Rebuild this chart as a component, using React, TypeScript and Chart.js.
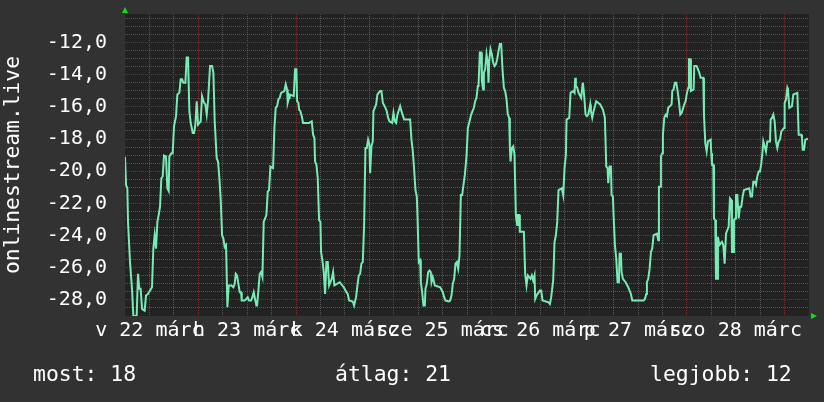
import React, { useEffect, useRef } from "react";
import { Chart, registerables } from "chart.js";

Chart.register(...registerables);

// time in hours since 22 March 00:00
const hours = [
  6.0, 6.25, 6.57, 6.74, 7.23, 7.72, 8.05, 8.87, 9.19, 9.52, 9.85, 10.18, 10.83, 11.16, 11.65, 12.63, 12.96, 13.29, 13.62, 13.95,
  14.27, 14.6, 14.93, 15.26, 15.58, 16.07, 16.4, 16.73, 16.89, 17.39, 17.71, 18.04, 18.53, 18.86, 19.35, 19.68, 20.01, 20.33, 20.83, 21.15,
  21.48, 21.81, 22.14, 22.63, 22.96, 23.28, 23.61, 23.94, 24.59, 24.92, 25.41, 25.74, 26.07, 26.39, 26.89, 27.38, 27.71, 28.03, 28.52, 28.85,
  29.18, 29.51, 29.84, 30.16, 30.49, 30.82, 31.15, 31.47, 32.13, 32.62, 32.95, 33.2, 33.52, 33.85, 34.18, 34.5, 34.67, 35.32, 35.81, 36.14,
  36.47, 36.96, 37.29, 37.62, 37.94, 38.27, 38.44, 38.76, 39.09, 39.42, 39.75, 40.07, 40.73, 41.06, 41.38, 41.71, 42.37, 42.7, 43.02, 43.35,
  43.68, 44.01, 44.33, 45.15, 45.48, 45.81, 45.97, 46.3, 46.46, 47.45, 47.77, 48.1, 48.27, 48.59, 48.76, 49.08, 49.41, 49.74, 51.21, 51.87,
  52.2, 52.52, 52.69, 53.02, 53.34, 53.67, 54.0, 54.16, 54.49, 54.82, 55.15, 55.47, 55.8, 56.13, 56.78, 57.11, 57.44, 58.75, 59.73, 60.39,
  60.71, 61.04, 61.95, 62.27, 62.44, 62.76, 63.09, 63.42, 63.75, 64.07, 64.4, 64.73, 65.06, 65.39, 65.71, 66.04, 66.2, 66.53, 66.86, 67.02,
  67.35, 67.68, 68.01, 68.66, 68.99, 69.32, 69.97, 70.3, 70.63, 70.96, 71.61, 71.94, 72.27, 72.59, 72.92, 73.58, 73.9, 74.56, 76.03, 76.36,
  76.69, 77.02, 77.34, 77.67, 77.84, 78.16, 78.49, 78.66, 78.98, 79.31, 79.64, 79.8, 80.13, 80.46, 80.78, 81.11, 81.28, 81.6, 82.1, 83.41,
  84.06, 84.39, 84.72, 85.54, 85.86, 86.19, 86.52, 86.85, 87.17, 87.5, 87.83, 88.16, 88.49, 88.81, 89.14, 89.47, 89.88, 90.21, 90.53, 91.02,
  91.68, 92.01, 92.33, 92.66, 92.83, 93.15, 93.48, 93.65, 93.97, 94.14, 94.46, 94.79, 95.12, 95.28, 95.45, 95.77, 96.1, 96.43, 96.76, 97.09,
  97.41, 97.74, 98.07, 98.4, 98.72, 99.05, 99.38, 99.71, 100.03, 100.36, 100.53, 100.69, 101.02, 101.35, 101.67, 102.0, 102.33, 102.49, 102.82, 102.98,
  103.97, 104.29, 104.62, 104.95, 105.6, 105.93, 106.26, 106.59, 106.75, 107.08, 107.9, 108.23, 108.55, 110.03, 110.36, 110.68, 111.17, 111.5, 111.83, 112.16,
  112.48, 113.3, 113.63, 113.96, 114.29, 114.45, 115.11, 115.43, 116.09, 116.42, 116.58, 116.74, 117.07, 117.4, 118.05, 118.38, 118.47, 118.79, 119.12, 119.45,
  119.78, 120.27, 120.43, 120.76, 121.09, 121.74, 122.72, 123.38, 123.87, 124.03, 124.2, 124.53, 124.69, 125.02, 125.35, 125.51, 125.84, 126.0, 126.33, 126.66,
  126.98, 127.31, 127.48, 127.8, 127.97, 128.29, 128.95, 129.6, 129.93, 130.26, 130.59, 133.37, 133.7, 134.03, 134.19, 134.52, 134.85, 135.18, 135.5, 135.83,
  136.65, 136.98, 137.14, 137.47, 137.63, 137.96, 138.12, 138.45, 138.78, 139.11, 139.43, 140.25, 140.42, 140.74, 141.07, 141.4, 141.73, 142.05, 142.38, 142.71,
  143.37, 143.69, 144.02, 144.35, 144.51, 144.84, 145.0, 145.66, 145.82, 146.4, 146.73, 147.05, 147.38, 148.04, 148.2, 148.53, 148.86, 149.18, 149.84, 150.0,
  150.17, 150.49, 150.66, 150.98, 151.15, 151.48, 151.64, 151.97, 152.62, 152.95, 153.28, 153.61, 153.93, 154.26, 154.59, 154.92, 155.08, 155.41, 155.57, 155.9,
  156.06, 156.39, 156.72, 157.05, 157.37, 157.7, 158.03, 159.34, 159.67, 159.99, 160.32, 160.65, 160.98, 161.3, 161.63, 161.96, 162.29, 162.62, 162.78, 163.11,
  163.44, 163.76, 164.42, 164.58, 164.91, 165.24, 165.56, 165.89, 166.22, 166.55, 166.88, 167.2, 167.86, 168.02, 168.35, 168.68, 168.84, 169.17, 169.82, 170.15,
  171.14, 171.46, 172.12, 172.28, 172.45, 172.77, 173.1, 173.76,
];

const values = [
  -19.1, -20.85, -21.06, -23.15, -25.65, -27.31, -29.0, -29.0, -26.38, -27.31, -27.31, -28.56, -28.67, -27.73, -27.63, -27.21, -24.81, -23.98, -24.81, -23.15,
  -22.73, -22.21, -20.44, -20.33, -19.02, -19.08, -21.06, -21.23, -19.08, -18.88, -18.88, -17.21, -16.58, -15.23, -15.13, -14.29, -14.29, -14.5, -14.5, -12.94,
  -12.94, -16.27, -17.0, -17.63, -17.63, -17.1, -15.65, -17.1, -16.9, -15.33, -15.75, -15.85, -16.48, -15.65, -13.46, -13.46, -13.88, -16.9, -19.19, -19.4,
  -20.44, -21.79, -23.98, -24.19, -24.71, -24.6, -28.46, -27.1, -27.1, -27.21, -27.0, -26.38, -26.48, -27.0, -27.52, -27.52, -28.04, -28.04, -27.94, -27.83,
  -28.04, -28.04, -27.83, -27.52, -27.94, -28.35, -28.35, -27.42, -26.38, -26.27, -26.58, -23.15, -22.73, -21.27, -21.17, -19.71, -19.81, -17.31, -16.06, -15.96,
  -15.54, -15.44, -15.13, -15.02, -14.6, -14.92, -15.75, -15.44, -15.23, -15.33, -13.67, -13.67, -15.65, -15.75, -16.17, -16.27, -16.58, -17.0, -17.0, -16.9,
  -17.73, -17.94, -19.4, -19.6, -20.44, -23.04, -23.15, -25.02, -25.54, -26.27, -27.63, -25.65, -25.65, -27.1, -26.69, -26.27, -27.1, -26.9, -27.21, -27.52,
  -27.63, -28.04, -28.1, -28.35, -28.35, -27.83, -27.1, -26.48, -26.38, -25.75, -25.65, -23.35, -18.56, -18.56, -18.04, -18.35, -20.13, -18.46, -18.15, -16.27,
  -16.06, -15.85, -15.23, -15.02, -15.02, -15.75, -16.06, -16.27, -16.69, -16.9, -17.0, -16.38, -16.9, -17.0, -16.48, -15.96, -16.27, -16.79, -16.79, -18.04,
  -18.77, -19.92, -21.17, -21.58, -22.83, -25.65, -25.54, -26.9, -27.52, -28.35, -28.35, -27.31, -27.0, -26.27, -26.17, -26.27, -26.9, -26.58, -27.1, -27.21,
  -27.52, -27.83, -28.04, -28.1, -28.04, -27.73, -27.0, -26.69, -25.75, -25.65, -26.06, -25.23, -21.48, -21.48, -20.85, -20.23, -19.08, -17.31, -17.0, -16.48,
  -16.06, -15.65, -15.44, -14.71, -14.71, -12.63, -12.63, -14.4, -14.92, -13.88, -13.67, -12.73, -13.35, -14.5, -13.15, -12.42, -12.73, -13.25, -13.46, -13.35,
  -13.04, -12.52, -12.1, -12.1, -13.67, -14.81, -15.02, -15.54, -16.48, -16.69, -18.56, -19.4, -18.56, -18.46, -18.98, -22.73, -23.35, -22.73, -22.73, -23.77,
  -23.77, -26.38, -27.1, -26.48, -26.69, -26.48, -26.79, -26.48, -27.94, -27.73, -27.42, -27.42, -28.04, -28.15, -28.25, -27.83, -26.79, -24.4, -23.98, -23.15,
  -21.17, -21.06, -21.48, -19.81, -18.98, -16.79, -16.69, -15.13, -15.02, -15.13, -14.19, -14.71, -14.81, -15.13, -15.44, -14.6, -14.5, -15.33, -16.48, -16.58,
  -16.48, -15.85, -16.27, -16.69, -16.27, -15.65, -15.85, -16.17, -16.69, -18.15, -19.71, -19.81, -20.75, -19.71, -19.71, -21.48, -21.58, -22.73, -24.6, -25.44,
  -26.9, -26.9, -25.13, -25.13, -26.27, -26.69, -26.9, -27.21, -27.42, -27.63, -28.04, -28.04, -27.94, -27.63, -26.9, -26.69, -26.06, -25.02, -24.81, -23.98,
  -23.88, -24.29, -20.96, -20.96, -19.08, -18.88, -17.73, -16.69, -16.48, -16.58, -16.06, -15.85, -15.02, -14.92, -14.5, -14.5, -15.02, -15.65, -16.48, -16.38,
  -15.85, -15.65, -15.13, -14.81, -13.04, -13.04, -15.02, -14.92, -13.46, -13.46, -13.67, -13.88, -14.19, -14.19, -16.48, -18.25, -18.77, -18.15, -18.04, -18.88,
  -19.6, -19.6, -22.94, -23.04, -26.69, -26.69, -24.08, -24.6, -24.4, -24.6, -25.75, -23.88, -23.67, -23.46, -21.69, -21.79, -25.02, -25.02, -23.04, -22.94,
  -21.48, -21.48, -22.94, -22.21, -22.21, -21.58, -21.17, -21.06, -21.58, -21.58, -20.65, -20.65, -20.85, -20.33, -20.02, -20.02, -19.5, -18.67, -18.15, -18.46,
  -18.77, -18.15, -18.15, -16.79, -16.69, -16.48, -16.9, -18.15, -18.56, -18.15, -18.04, -17.52, -17.31, -15.75, -15.54, -14.81, -14.92, -16.06, -15.96, -15.23,
  -15.13, -17.73, -17.73, -17.94, -18.67, -18.67, -18.04, -17.98,
];

const dayTickHours = [12, 36, 60, 84, 108, 132, 156];
const dayLabels = ["v 22 márc", "h 23 márc", "k 24 márc", "sze 25 márc", "cs 26 márc", "p 27 márc", "szo 28 márc"];
const yLabelValues = [-28, -26, -24, -22, -20, -18, -16, -14, -12];
const legendTexts = ["most: 18", "átlag: 21", "legjobb: 12"];
const yTitle = "onlinestream.live";

const X_MIN = 6;
const X_MAX = 174;
const Y_MIN = -29;
const Y_MAX = -10.23;

const MONO = '"DejaVu Sans Mono", monospace';
const OUTER = "#323232";
const INNER = "#222222";
const LINE = "#78eab4";
const MINOR = "rgba(128,128,128,0.55)";
const MAJOR = "#703434";
const ARROW = "#11dd11";
const TEXT = "#ffffff";
const CLEAR = "rgba(0,0,0,0)";

export default function App() {
  const ref = useRef<HTMLCanvasElement | null>(null);

  useEffect(() => {
    document.body.style.margin = "0";
    document.body.style.background = OUTER;
    const canvas = ref.current;
    if (!canvas) return;

    const decor = {
      id: "decor",
      beforeDraw(chart: any) {
        const { ctx, chartArea: a } = chart;
        ctx.save();
        ctx.fillStyle = OUTER;
        ctx.fillRect(0, 0, chart.width, chart.height);
        ctx.fillStyle = INNER;
        ctx.fillRect(a.left, a.top, a.right - a.left, a.bottom - a.top);
        ctx.restore();
      },
      afterDraw(chart: any) {
        const { ctx, chartArea: a } = chart;
        ctx.save();
        // axis arrows
        ctx.fillStyle = ARROW;
        ctx.beginPath();
        ctx.moveTo(a.left - 3, a.top - 1);
        ctx.lineTo(a.left + 3, a.top - 1);
        ctx.lineTo(a.left, a.top - 7);
        ctx.closePath();
        ctx.fill();
        ctx.beginPath();
        ctx.moveTo(a.right + 2, a.bottom - 3);
        ctx.lineTo(a.right + 2, a.bottom + 3);
        ctx.lineTo(a.right + 8, a.bottom);
        ctx.closePath();
        ctx.fill();
        // legend line
        ctx.fillStyle = TEXT;
        ctx.font = "21.4px " + MONO;
        ctx.textBaseline = "alphabetic";
        ctx.textAlign = "left";
        const xs = [33, 335, 650];
        legendTexts.forEach((t, i) => ctx.fillText(t, xs[i], 381));
        ctx.restore();
      },
    };

    const chart = new Chart(canvas, {
      type: "line",
      data: {
        datasets: [
          {
            data: hours.map((h, i) => ({ x: h, y: values[i] })),
            borderColor: LINE,
            borderWidth: 2,
            pointRadius: 0,
            tension: 0,
            fill: false,
          },
        ],
      },
      options: {
        animation: false,
        responsive: false,
        devicePixelRatio: 1,
        layout: { padding: { left: 0, right: 15, top: 14, bottom: 0 } },
        plugins: { legend: { display: false }, tooltip: { enabled: false } },
        scales: {
          x: {
            type: "linear",
            min: X_MIN,
            max: X_MAX,
            afterBuildTicks: (s: any) => {
              const t: any[] = [];
              for (let h = 12; h < X_MAX; h += 6) t.push({ value: h });
              s.ticks = t;
            },
            afterFit: (s: any) => {
              s.height = 86;
            },
            ticks: {
              autoSkip: false,
              maxRotation: 0,
              minRotation: 0,
              padding: 0,
              color: TEXT,
              font: { family: MONO, size: 20, lineHeight: 1 },
              callback: (v: any) => {
                const i = dayTickHours.indexOf(Number(v));
                return i >= 0 ? dayLabels[i] : "";
              },
            },
            grid: {
              color: (c: any) => (c.tick && c.tick.value % 24 === 0 ? MAJOR : MINOR),
              lineWidth: 1,
              drawTicks: true,
              tickLength: 5,
              tickColor: CLEAR,
            },
            border: { display: false, dash: [1, 1] },
          },
          y: {
            type: "linear",
            min: Y_MIN,
            max: Y_MAX,
            afterBuildTicks: (s: any) => {
              const t: any[] = [];
              for (let v = Y_MIN + 0.5; v < Y_MAX; v += 0.5) t.push({ value: v });
              s.ticks = t;
            },
            afterFit: (s: any) => {
              s.width = 125;
            },
            ticks: {
              autoSkip: false,
              padding: 0,
              color: TEXT,
              font: { family: MONO, size: 20, lineHeight: 1 },
              callback: (v: any) => {
                const n = Number(v);
                return yLabelValues.includes(n) ? n.toFixed(1).replace(".", ",") : "";
              },
            },
            grid: {
              color: (c: any) => (c.tick && yLabelValues.includes(c.tick.value) ? MAJOR : MINOR),
              lineWidth: 1,
              drawTicks: true,
              tickLength: 18,
              tickColor: CLEAR,
            },
            border: { display: false, dash: [1, 1] },
            title: {
              display: true,
              text: yTitle,
              color: TEXT,
              font: { family: MONO, size: 21.3, lineHeight: 1.2 },
              padding: { top: 1, bottom: 0 },
            },
          },
        },
      },
      plugins: [decor],
    } as any);

    return () => chart.destroy();
  }, []);

  return (
    <canvas
      ref={ref}
      width={824}
      height={402}
      style={{ position: "absolute", left: 0, top: 0, display: "block", width: 824, height: 402 }}
    />
  );
}
